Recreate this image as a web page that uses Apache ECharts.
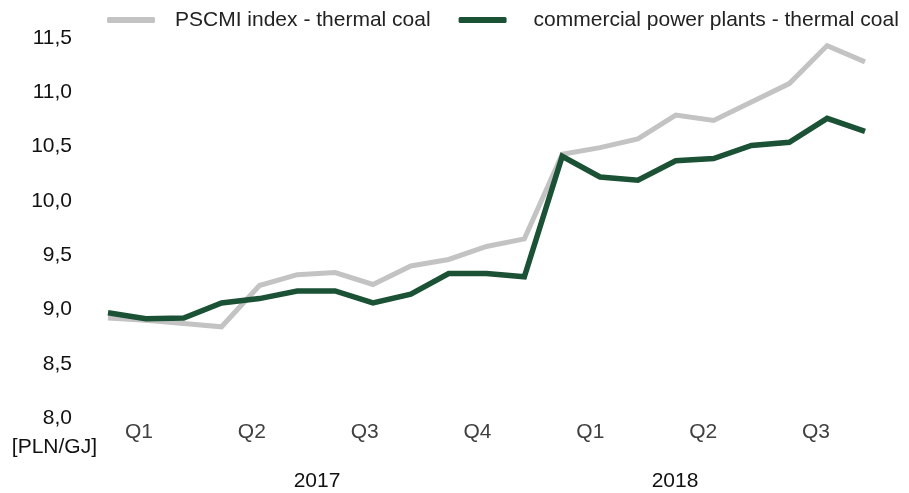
<!DOCTYPE html>
<html>
<head>
<meta charset="utf-8">
<script src="https://cdn.jsdelivr.net/npm/echarts@6/dist/echarts.min.js"></script>
<style>
  html, body { margin: 0; padding: 0; background: #fff; }
  #chart { width: 909px; height: 493px; }
</style>
</head>
<body>
<div id="chart"></div>
<script>
// miesiace od 01.2017 do 09.2018
var months = ['2017-01','2017-02','2017-03','2017-04','2017-05','2017-06','2017-07','2017-08','2017-09',
    '2017-10','2017-11','2017-12','2018-01','2018-02','2018-03','2018-04','2018-05','2018-06',
    '2018-07','2018-08','2018-09'];
var quarters = ['Q1','Q2','Q3','Q4','Q1','Q2','Q3'];
var years = ['2017','2018'];

var pscmi = [8.92, 8.90, 8.87, 8.84, 9.22, 9.32, 9.34, 9.23, 9.40, 9.46, 9.58, 9.65,
    10.43, 10.49, 10.57, 10.79, 10.74, 10.91, 11.08, 11.43, 11.28];
var powerPlants = [8.97, 8.915, 8.92, 9.06, 9.10, 9.17, 9.17, 9.06, 9.14, 9.33, 9.33, 9.30,
    10.41, 10.22, 10.19, 10.37, 10.39, 10.51, 10.54, 10.76, 10.64];

var FONT = '"Liberation Sans", Arial, sans-serif';
var FS = 21;

var myChart = echarts.init(document.getElementById('chart'));
myChart.setOption({
    animation: false,
    legend: {
        left: 107,
        top: 8,
        padding: 0,
        icon: 'roundRect',
        itemWidth: 48,
        itemHeight: 6,
        itemGap: 28,
        textStyle: { fontFamily: FONT, fontSize: FS, color: '#222', lineHeight: 24, padding: [0, 0, 0, 15] },
        data: [
            { name: 'PSCMI index - thermal coal' },
            { name: 'commercial power plants - thermal coal', textStyle: { padding: [0, 0, 0, 22] } }
        ]
    },
    grid: [
        { left: 108, right: 44, top: 38, bottom: 75 },          // wykres
        { left: 82.6, width: 789.8, top: 38, bottom: 75 },       // kwartaly
        { left: 138, width: 716, top: 38, bottom: 75 }           // lata
    ],
    xAxis: [
        {
            gridIndex: 0, type: 'category', data: months, boundaryGap: false,
            axisLine: { show: false }, axisTick: { show: false }, axisLabel: { show: false }, splitLine: { show: false }
        },
        {
            gridIndex: 1, type: 'category', data: quarters, boundaryGap: true,
            axisLine: { show: false }, axisTick: { show: false },
            axisLabel: { margin: 4, fontFamily: FONT, fontSize: FS, color: '#404040', interval: 0 }
        },
        {
            gridIndex: 2, type: 'category', data: years, boundaryGap: true,
            axisLine: { show: false }, axisTick: { show: false },
            axisLabel: { margin: 53, fontFamily: FONT, fontSize: FS, color: '#111', interval: 0 }
        }
    ],
    yAxis: [
        {
            gridIndex: 0, type: 'value', min: 8, max: 11.5, interval: 0.5,
            name: '[PLN/GJ]', nameLocation: 'start', nameGap: 19,
            nameTextStyle: { fontFamily: FONT, fontSize: FS, color: '#111', align: 'right', padding: [0, 11, 0, 0] },
            axisLine: { show: false }, axisTick: { show: false }, splitLine: { show: false },
            axisLabel: {
                margin: 36, fontFamily: FONT, fontSize: FS, color: '#111',
                formatter: function (v) { return v.toFixed(1).replace('.', ','); }
            }
        },
        { gridIndex: 1, type: 'value', show: false },
        { gridIndex: 2, type: 'value', show: false }
    ],
    series: [
        {
            name: 'PSCMI index - thermal coal',
            type: 'line',
            xAxisIndex: 0, yAxisIndex: 0,
            data: pscmi,
            symbol: 'none',
            lineStyle: { color: '#c3c3c3', width: 5, join: 'miter' },
            itemStyle: { color: '#c3c3c3' }
        },
        {
            name: 'commercial power plants - thermal coal',
            type: 'line',
            xAxisIndex: 0, yAxisIndex: 0,
            data: powerPlants,
            symbol: 'none',
            lineStyle: { color: '#1b5236', width: 5.5, join: 'miter' },
            itemStyle: { color: '#1b5236' }
        }
    ]
});
</script>
</body>
</html>
